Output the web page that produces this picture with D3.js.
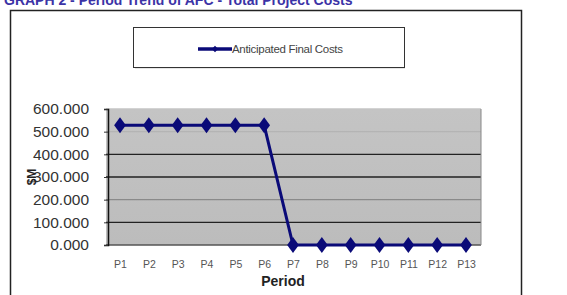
<!DOCTYPE html>
<html><head><meta charset="utf-8">
<script src="https://cdn.jsdelivr.net/npm/d3@7"></script>
<style>html,body{margin:0;padding:0;background:#fff;}svg{display:block;}</style>
</head><body><div id="chart"></div>
<script>
const categories = ["P1","P2","P3","P4","P5","P6","P7","P8","P9","P10","P11","P12","P13"];
const anticipatedFinalCosts = [528,528,528,528,528,528,0,0,0,0,0,0,0];
const yTicks = [0,100,200,300,400,500,600];
const titleText = "GRAPH 2 - Period Trend of AFC - Total Project Costs";
const seriesName = "Anticipated Final Costs";

const W = 567, H = 295;
const svg = d3.select("#chart").append("svg").attr("width", W).attr("height", H);

const defs = svg.append("defs");
const grad = defs.append("linearGradient").attr("id","bg").attr("x1",0).attr("x2",0).attr("y1",0).attr("y2",1);
grad.append("stop").attr("offset","0%").attr("stop-color","#c4c4c4");
grad.append("stop").attr("offset","100%").attr("stop-color","#bcbcbc");

// title (cut off at top, as in the reference)
svg.append("text").attr("x",4).attr("y",5).attr("font-family","Arial, Liberation Sans, sans-serif")
  .attr("font-size",14).attr("font-weight","bold").attr("fill","#3b33a6").text(titleText);

// outer frame
svg.append("rect").attr("x",10.5).attr("y",10.5).attr("width",511).attr("height",300)
  .attr("fill","none").attr("stroke","#222").attr("stroke-width",1.5);

// legend
svg.append("rect").attr("x",135).attr("y",29).attr("width",270).attr("height",40).attr("fill","#e6e6e6");
svg.append("rect").attr("x",133.5).attr("y",27.5).attr("width",271).attr("height",40)
  .attr("fill","#fff").attr("stroke","#333").attr("stroke-width",1);
svg.append("line").attr("x1",198).attr("x2",232).attr("y1",49).attr("y2",49)
  .attr("stroke","#0a0a78").attr("stroke-width",3.5);
svg.append("path").attr("d", d3.symbol(d3.symbolDiamond, 20)).attr("transform","translate(215,49) scale(1.3,0.8)").attr("fill","#0a0a78");
svg.append("text").attr("x",232).attr("y",53).attr("font-family","Arial, Liberation Sans, sans-serif")
  .attr("font-size",11.5).attr("fill","#444").attr("letter-spacing","-0.3").text(seriesName);

// scales
const x = d3.scalePoint().domain(categories).range([120, 466]);
const y = d3.scaleLinear().domain([0,600]).range([245, 109]);

const plotL = 106, plotR = 481;
svg.append("rect").attr("x",plotL).attr("y",y(600)).attr("width",plotR-plotL).attr("height",y(0)-y(600))
  .attr("fill","url(#bg)");

// gridlines
const gridColor = {0:"#555",100:"#222",200:"#8a8a8a",300:"#222",400:"#222",500:"#b4b4b4",600:"#c4c4c4"};
svg.append("g").selectAll("line").data(yTicks).join("line")
  .attr("x1",plotL).attr("x2",plotR).attr("y1",d=>y(d)).attr("y2",d=>y(d))
  .attr("stroke",d=>gridColor[d]).attr("stroke-width",1.3);
svg.append("line").attr("x1",plotR).attr("x2",plotR).attr("y1",y(600)).attr("y2",y(0)).attr("stroke","#888");

// y axis
const yAxis = d3.axisLeft(y).tickValues(yTicks).tickFormat(d3.format(".3f")).tickSize(4).tickPadding(15);
const gy = svg.append("g").attr("transform",`translate(108,0)`).call(yAxis);
gy.select(".domain").attr("stroke","#111").attr("stroke-width",1.5);
gy.selectAll(".tick line").attr("stroke","#333");
gy.selectAll(".tick text").attr("font-family","Arial, Liberation Sans, sans-serif").attr("font-size",15.5).attr("fill","#333");

// x axis labels
const xAxis = d3.axisBottom(x).tickSize(0).tickPadding(16);
const gx = svg.append("g").attr("transform",`translate(0,${y(0)})`).call(xAxis);
gx.select(".domain").remove();
gx.selectAll(".tick text").attr("font-family","Arial, Liberation Sans, sans-serif").attr("font-size",10.5).attr("fill","#555");

// axis titles
svg.append("text").attr("x",283).attr("y",286).attr("text-anchor","middle")
  .attr("font-family","Arial, Liberation Sans, sans-serif").attr("font-size",14).attr("font-weight","bold").attr("fill","#222").text("Period");
svg.append("text").attr("transform",`translate(36,${y(300)}) rotate(-90)`).attr("text-anchor","middle")
  .attr("font-family","Arial, Liberation Sans, sans-serif").attr("font-size",12).attr("font-weight","bold").attr("fill","#222").text("$M");

// series
const line = d3.line().x((d,i)=>x(categories[i])).y(d=>y(d));
svg.append("path").datum(anticipatedFinalCosts).attr("d",line).attr("fill","none")
  .attr("stroke","#0a0a78").attr("stroke-width",3);
svg.append("g").selectAll("path").data(anticipatedFinalCosts).join("path")
  .attr("d", d3.symbol(d3.symbolDiamond, 90))
  .attr("transform",(d,i)=>`translate(${x(categories[i])},${y(d)}) scale(1.15,0.9)`)
  .attr("fill","#0a0a78");
</script></body></html>
